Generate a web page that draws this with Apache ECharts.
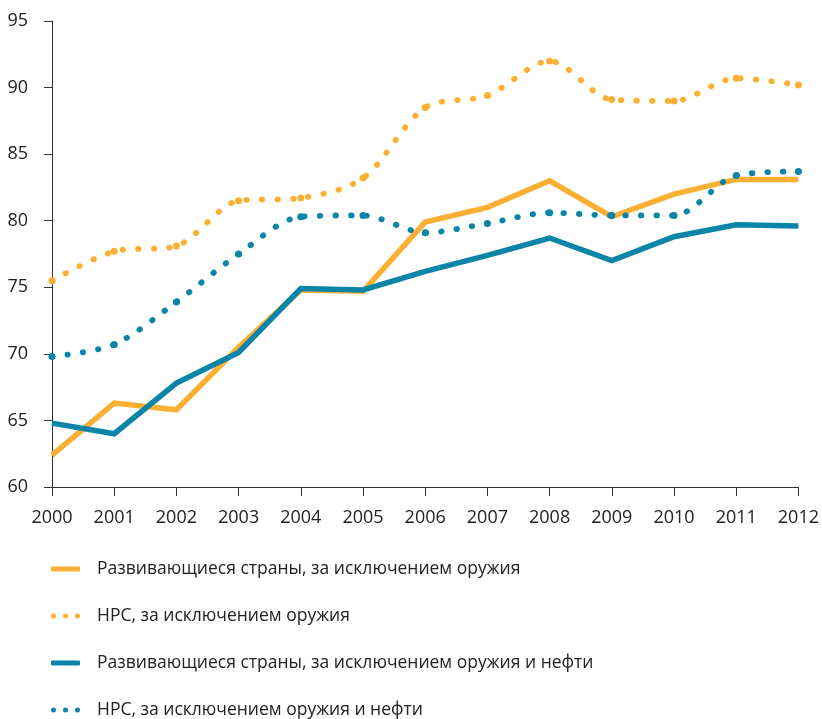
<!DOCTYPE html>
<html>
<head>
<meta charset="utf-8">
<script src="https://cdn.jsdelivr.net/npm/echarts@6/dist/echarts.min.js"></script>
<style>
html,body{margin:0;padding:0;background:#fff;}
#chart{width:822px;height:719px;}
</style>
</head>
<body>
<div id="chart"></div>
<script>
var years = ['2000','2001','2002','2003','2004','2005','2006','2007','2008','2009','2010','2011','2012'];
var devExArms = [62.4, 66.3, 65.8, 70.5, 74.8, 74.7, 79.9, 81.0, 83.0, 80.3, 82.0, 83.1, 83.1];
var ldcExArms = [75.5, 77.7, 78.1, 81.5, 81.7, 83.2, 88.5, 89.4, 92.0, 89.1, 89.0, 90.7, 90.2];
var devExArmsOil = [64.8, 64.0, 67.8, 70.1, 74.9, 74.8, 76.2, 77.4, 78.7, 77.0, 78.8, 79.7, 79.6];
var ldcExArmsOil = [69.8, 70.7, 73.9, 77.5, 80.3, 80.4, 79.1, 79.8, 80.6, 80.4, 80.4, 83.4, 83.7];
var seriesNames = [
  'Развивающиеся страны, за исключением оружия',
  'НРС, за исключением оружия',
  'Развивающиеся страны, за исключением оружия и нефти',
  'НРС, за исключением оружия и нефти'
];

var ORANGE = '#FBB034';
var BLUE = '#0A85A8';
var FONT = '"Open Sans", sans-serif';
var SOLID_ICON = 'roundRect';
var DOT_ICON = 'path://M0,2.5a2.5,2.5 0 1,0 5,0a2.5,2.5 0 1,0 -5,0Z' +
  'M12,2.5a2.5,2.5 0 1,0 5,0a2.5,2.5 0 1,0 -5,0Z' +
  'M24,2.5a2.5,2.5 0 1,0 5,0a2.5,2.5 0 1,0 -5,0Z';

var chart = echarts.init(document.getElementById('chart'), null, {renderer: 'canvas'});

function solid(name, data, color) {
  return {
    name: name, type: 'line', data: data, symbol: 'none',
    lineStyle: {color: color, width: 5.5, cap: 'butt', join: 'miter'},
    itemStyle: {color: color},
    animation: false
  };
}
function dotted(name, data, color) {
  return {
    name: name, type: 'line', data: data, smooth: 0.3,
    symbol: 'circle', symbolSize: 7, showSymbol: true,
    lineStyle: {color: color, width: 5.8, type: [0.5, 15], cap: 'round'},
    itemStyle: {color: color, borderWidth: 0},
    animation: false
  };
}

chart.setOption({
  backgroundColor: '#fff',
  animation: false,
  textStyle: {fontFamily: FONT},
  grid: {left: 52, right: 22, top: 21, bottom: 232, containLabel: false},
  legend: {
    orient: 'vertical', left: 51, top: 560, bottom: 0, padding: 0,
    itemWidth: 29, itemHeight: 5, itemGap: 29,
    data: [
      {name: seriesNames[0], icon: SOLID_ICON},
      {name: seriesNames[1], icon: DOT_ICON},
      {name: seriesNames[2], icon: SOLID_ICON},
      {name: seriesNames[3], icon: DOT_ICON}
    ],
    textStyle: {fontFamily: FONT, fontSize: 17.5, color: '#222', padding: [0, 0, 0, 12]},
    selectedMode: false
  },
  xAxis: {
    type: 'category', data: years, boundaryGap: false,
    axisLine: {lineStyle: {color: '#333', width: 1}},
    axisTick: {show: true, alignWithLabel: true, length: 9, lineStyle: {color: '#333'}},
    axisLabel: {color: '#222', fontSize: 18, fontFamily: FONT, margin: 22}
  },
  yAxis: {
    type: 'value', min: 60, max: 95, interval: 5,
    axisLine: {show: true, lineStyle: {color: '#333', width: 1}},
    axisTick: {show: true, length: 8, lineStyle: {color: '#333'}},
    splitLine: {show: false},
    axisLabel: {color: '#222', fontSize: 18, fontFamily: FONT, margin: 24}
  },
  series: [
    solid(seriesNames[0], devExArms, ORANGE),
    dotted(seriesNames[1], ldcExArms, ORANGE),
    solid(seriesNames[2], devExArmsOil, BLUE),
    dotted(seriesNames[3], ldcExArmsOil, BLUE)
  ]
});
</script>
</body>
</html>
